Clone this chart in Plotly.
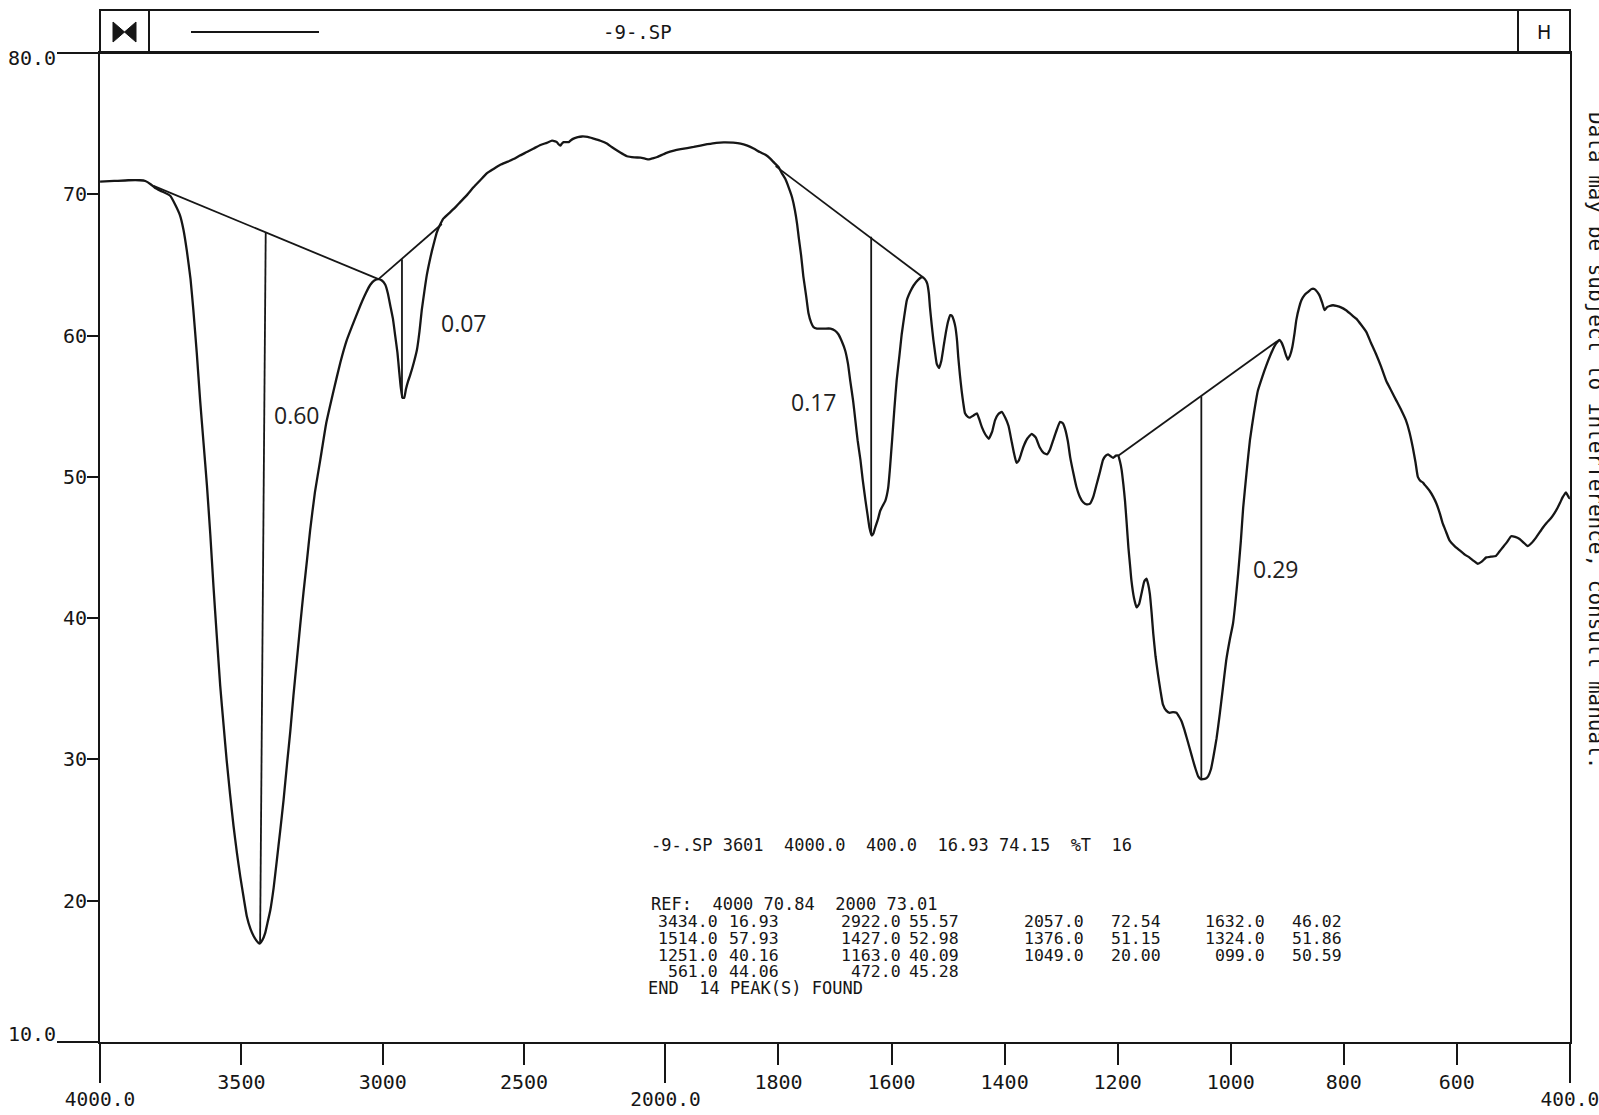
import numpy as np
import plotly.graph_objects as go

# ---------------- data ----------------
wavenumber = [4000, 3950, 3900, 3860, 3840, 3820, 3805, 3780, 3752, 3735, 3717, 3705, 3693, 3680, 3670,
              3658, 3646, 3634, 3622, 3610, 3599, 3587, 3575, 3563, 3552, 3540, 3528, 3516, 3504, 3492,
              3481, 3468, 3457, 3446, 3436, 3426, 3416, 3408, 3398, 3386, 3375, 3363, 3351, 3339, 3327,
              3316, 3304, 3292, 3280, 3268, 3257, 3240, 3221, 3200, 3174, 3150, 3127, 3100, 3080, 3060,
              3044, 3030, 3015, 3003, 2991, 2982, 2973, 2964, 2956, 2948, 2942, 2936, 2930, 2924, 2918,
              2910, 2903, 2890, 2879, 2870, 2862, 2853, 2844, 2835, 2826, 2817, 2809, 2796, 2785, 2761,
              2740, 2726, 2700, 2679, 2655, 2631, 2608, 2584, 2560, 2537, 2515, 2490, 2466, 2442, 2420,
              2401, 2390, 2384, 2378, 2372, 2366, 2360, 2350, 2342, 2333, 2325, 2310, 2295, 2275, 2254,
              2230, 2207, 2190, 2171, 2150, 2136, 2110, 2088, 2070, 2058, 2045, 2029, 2012, 1997, 1985,
              1973, 1950, 1926, 1910, 1897, 1880, 1867, 1855, 1844, 1833, 1823, 1815, 1809, 1800, 1794,
              1788, 1782, 1776, 1771, 1767, 1764, 1760, 1756, 1751, 1747, 1742, 1738, 1732, 1726, 1718,
              1708, 1700, 1694, 1688, 1682, 1677, 1673, 1668, 1664, 1660, 1655, 1651, 1646, 1642, 1639,
              1635, 1632, 1629, 1624, 1620, 1615, 1611, 1606, 1603, 1599, 1595, 1591, 1586, 1582, 1577,
              1573, 1567, 1561, 1553, 1546, 1541, 1537, 1534, 1532, 1529, 1526, 1523, 1520, 1516, 1512,
              1508, 1504, 1500, 1496, 1493, 1490, 1487, 1484, 1482, 1479, 1476, 1473, 1470, 1465, 1461,
              1455, 1449, 1445, 1440, 1434, 1428, 1422, 1417, 1411, 1405, 1399, 1393, 1388, 1384, 1379,
              1375, 1371, 1367, 1360, 1352, 1345, 1338, 1331, 1325, 1320, 1314, 1308, 1302, 1297, 1293,
              1288, 1284, 1278, 1273, 1267, 1261, 1255, 1249, 1243, 1237, 1231, 1226, 1221, 1217, 1212,
              1208, 1203, 1199, 1196, 1193, 1190, 1187, 1184, 1181, 1178, 1175.6, 1171, 1166.6, 1162, 1158,
              1153, 1149, 1146, 1143, 1140, 1137, 1133, 1128.6, 1124, 1120, 1114, 1108, 1102, 1096, 1091,
              1087, 1082, 1078, 1072, 1066.5, 1062, 1057.6, 1053, 1049, 1044, 1040, 1035, 1031, 1025, 1019.4,
              1014, 1008, 1002, 996, 992, 987, 982, 978, 972, 966, 959, 952, 944, 937, 929,
              922, 914, 910, 906, 903, 899, 895, 891, 887, 884, 879, 875, 869, 863, 857,
              852, 847, 843, 838, 834, 830, 825, 819, 813, 805, 796, 787, 778, 769, 760,
              752, 743, 734, 725, 716, 707, 698, 690, 684, 678, 673, 669, 664, 660, 654,
              648, 642, 636, 630, 625, 619, 613, 604, 595, 586, 578, 570, 563, 556, 548,
              540, 531, 525, 519, 511, 504, 497, 489, 482, 475, 467, 460, 454, 448, 441,
              433, 427, 422, 417, 413, 409, 407, 404, 401, 400]
transmittance = [70.9, 70.95, 71.0, 71.0, 70.95, 70.7, 70.45, 70.2, 69.9, 69.3, 68.5, 67.5, 66.0, 64.0, 61.8,
                 58.8, 55.4, 52.4, 49.4, 45.9, 42.3, 38.7, 35.2, 32.4, 29.9, 27.5, 25.3, 23.4, 21.7, 20.2,
                 18.9, 18.0, 17.5, 17.15, 16.95, 17.2, 17.7, 18.4, 19.3, 20.9, 22.8, 24.9, 27.1, 29.6, 32.0,
                 34.5, 37.0, 39.5, 41.9, 44.1, 46.2, 48.9, 51.2, 53.8, 56.1, 58.1, 59.7, 61.1, 62.1, 63.0,
                 63.6, 63.9, 64.0, 63.9, 63.6, 63.0, 62.1, 61.2, 60.0, 58.8, 57.5, 56.3, 55.6, 55.6, 56.2,
                 56.8, 57.2, 58.1, 59.0, 60.3, 61.8, 63.1, 64.3, 65.2, 66.0, 66.7, 67.3, 67.9, 68.3, 68.75,
                 69.15, 69.45, 70.0, 70.5, 71.0, 71.5, 71.8, 72.1, 72.3, 72.5, 72.75, 73.0, 73.25, 73.5, 73.65,
                 73.8, 73.75, 73.7, 73.55, 73.45, 73.6, 73.7, 73.7, 73.7, 73.85, 73.95, 74.05, 74.1, 74.07, 73.95,
                 73.8, 73.6, 73.35, 73.1, 72.85, 72.7, 72.62, 72.6, 72.52, 72.48, 72.55, 72.65, 72.8, 72.96, 73.1,
                 73.2, 73.36, 73.55, 73.65, 73.68, 73.66, 73.6, 73.45, 73.25, 73.0, 72.8, 72.55, 72.3, 71.95, 71.5,
                 71.1, 70.5, 69.8, 68.9, 67.9, 66.9, 65.7, 64.2, 62.8, 61.6, 60.9, 60.6, 60.5, 60.5, 60.5,
                 60.5, 60.35, 60.1, 59.6, 58.95, 58.0, 56.8, 55.4, 54.0, 52.6, 51.2, 49.8, 48.3, 47.2, 46.4,
                 45.85, 46.0, 46.4, 47.0, 47.6, 48.0, 48.3, 49.2, 50.5, 52.6, 54.8, 56.8, 58.6, 60.1, 61.5,
                 62.5, 63.1, 63.55, 63.95, 64.15, 64.0, 63.7, 63.0, 62.0, 60.8, 59.7, 58.8, 58.0, 57.7, 58.2,
                 59.2, 60.2, 61.0, 61.45, 61.4, 61.1, 60.6, 59.6, 58.5, 57.2, 56.1, 55.2, 54.5, 54.25, 54.2,
                 54.35, 54.5, 54.1, 53.5, 53.0, 52.7, 53.2, 54.0, 54.45, 54.6, 54.2, 53.6, 52.6, 51.8, 51.0,
                 51.15, 51.6, 52.1, 52.7, 53.05, 52.8, 52.1, 51.7, 51.6, 51.9, 52.6, 53.3, 53.9, 53.8, 53.4,
                 52.5, 51.4, 50.2, 49.3, 48.6, 48.2, 48.05, 48.1, 48.6, 49.5, 50.4, 51.2, 51.5, 51.6, 51.45,
                 51.35, 51.5, 51.5, 51.1, 50.5, 49.5, 48.3, 46.7, 45.0, 43.7, 42.65, 41.4, 40.76, 41.0, 41.7,
                 42.6, 42.8, 42.4, 41.7, 40.4, 38.9, 37.3, 36.0, 34.8, 33.9, 33.45, 33.3, 33.35, 33.3, 33.0,
                 32.7, 32.1, 31.55, 30.7, 29.9, 29.3, 28.8, 28.6, 28.6, 28.65, 28.8, 29.3, 30.1, 31.5, 33.2,
                 35.0, 37.0, 38.4, 39.6, 41.0, 43.1, 45.5, 47.8, 50.3, 52.6, 54.5, 56.1, 57.1, 57.9, 58.7,
                 59.3, 59.7, 59.5, 59.1, 58.7, 58.3, 58.6, 59.2, 60.2, 61.1, 62.0, 62.5, 62.9, 63.1, 63.3,
                 63.3, 63.1, 62.85, 62.3, 61.8, 62.0, 62.1, 62.15, 62.1, 62.0, 61.8, 61.5, 61.2, 60.75, 60.25,
                 59.5, 58.7, 57.8, 56.8, 56.1, 55.4, 54.7, 54.0, 53.2, 52.1, 51.0, 50.0, 49.7, 49.6, 49.3,
                 49.0, 48.6, 48.1, 47.4, 46.7, 46.1, 45.5, 45.1, 44.8, 44.5, 44.3, 44.05, 43.85, 44.0, 44.3,
                 44.35, 44.4, 44.7, 45.0, 45.4, 45.8, 45.75, 45.6, 45.35, 45.1, 45.35, 45.7, 46.05, 46.4, 46.75,
                 47.1, 47.45, 47.8, 48.2, 48.55, 48.8, 48.9, 48.7, 48.5, 48.5]

# peak-pick baselines (wavenumber pairs, %T pairs)
baseline_wn = [[3811, 3015], [3015, 2791], [1805, 1545], [1199, 918]]
baseline_t = [[70.6, 64.0], [64.0, 67.9], [72.0, 64.15], [51.5, 59.6]]
# vertical drop lines from peak minimum to baseline
drop_wn = [[3434, 3414], [2932, 2932], [1636, 1636], [1052, 1052]]
drop_t = [[16.93, 67.3], [55.6, 65.4], [45.9, 67.0], [28.6, 55.7]]
# hand-written absorbance labels
hand_labels = ["0.60", "0.07", "0.17", "0.29"]
hand_wn = [3303, 2712, 1737, 920]
hand_t = [54.4, 60.9, 55.3, 43.5]

x_minor_ticks = [3500, 3000, 2500, 1800, 1600, 1400, 1200, 1000, 800, 600]
x_minor_text = ["3500", "3000", "2500", "1800", "1600", "1400", "1200", "1000", "800", "600"]
x_major_ticks = [4000, 2000, 400]
x_major_text = ["4000.0", "2000.0", "400.0"]
y_ticks = [20, 30, 40, 50, 60, 70]
y_text = ["20", "30", "40", "50", "60", "70"]
y_end_ticks = [10, 80]
y_end_text = ["10.0", "80.0"]

title_text = "-9-.SP"
info_line = "-9-.SP 3601  4000.0  400.0  16.93 74.15  %T  16"
ref_line = "REF:  4000 70.84  2000 73.01"
peak_rows = [
    ["3434.0", "16.93", "2922.0", "55.57", "2057.0", "72.54", "1632.0", "46.02"],
    ["1514.0", "57.93", "1427.0", "52.98", "1376.0", "51.15", "1324.0", "51.86"],
    ["1251.0", "40.16", "1163.0", "40.09", "1049.0", "20.00", "099.0", "50.59"],
    ["561.0", "44.06", "472.0", "45.28"],
]
end_line = "END  14 PEAK(S) FOUND"
side_note = "Data may be subject to interference, consult manual."

# ---------------- layout helpers ----------------
W, H = 1599, 1115
L, R, T, B = 100, 1570, 53, 1042
INK = "#161616"
MONO = "DejaVu Sans Mono"


def to_u(wn):
    """IR chart x scale: 4000-2000 compressed, 2000-400 expanded x2."""
    wn = np.asarray(wn, dtype=float)
    return np.where(wn >= 2000, 4000 - wn, 2000 + 2 * (2000 - wn))


def pxx(x):
    return (x - L) / (R - L)


def pxy(y):
    return (B - y) / (B - T)


fig = go.Figure()

fig.add_trace(go.Scatter(x=to_u(wavenumber), y=transmittance, mode="lines",
                         line=dict(color=INK, width=2.3, shape="spline", smoothing=0.4),
                         hoverinfo="skip", showlegend=False))
for w, t in zip(baseline_wn, baseline_t):
    fig.add_trace(go.Scatter(x=to_u(w), y=t, mode="lines", line=dict(color=INK, width=1.8),
                             hoverinfo="skip", showlegend=False))
for w, t in zip(drop_wn, drop_t):
    fig.add_trace(go.Scatter(x=to_u(w), y=t, mode="lines", line=dict(color=INK, width=1.8),
                             hoverinfo="skip", showlegend=False))

# invisible helpers so the extra tick axes are drawn
fig.add_trace(go.Scatter(x=to_u(x_major_ticks), y=[50] * len(x_major_ticks), xaxis="x2", yaxis="y",
                         mode="markers", marker=dict(opacity=0), hoverinfo="skip", showlegend=False))
fig.add_trace(go.Scatter(x=to_u([3000, 3000]), y=y_end_ticks, xaxis="x", yaxis="y2",
                         mode="markers", marker=dict(opacity=0), hoverinfo="skip", showlegend=False))

urange = [-0.3, float(to_u(400)) + 0.3]
yrange = [9.99, 80.01]
tickfont = dict(family=MONO, size=20, color=INK)

fig.update_layout(
    width=W, height=H,
    margin=dict(l=L, r=W - R, t=T, b=H - B, pad=0),
    paper_bgcolor="white", plot_bgcolor="white",
    showlegend=False,
    xaxis=dict(range=urange, tickvals=to_u(x_minor_ticks), ticktext=x_minor_text,
               ticks="outside", ticklen=21, tickwidth=2, tickcolor=INK, ticklabeloverflow="allow",
               showline=True, mirror=True, linecolor=INK, linewidth=2, automargin=False,
               showgrid=False, zeroline=False, tickfont=tickfont, fixedrange=True),
    xaxis2=dict(range=urange, overlaying="x", anchor="y", side="bottom",
                tickvals=to_u(x_major_ticks), ticktext=x_major_text, automargin=False,
                ticks="outside", ticklen=40, tickwidth=2, tickcolor=INK, ticklabeloverflow="allow",
                showline=False, showgrid=False, zeroline=False,
                tickfont=dict(family=MONO, size=19.5, color=INK)),
    yaxis=dict(range=yrange, tickvals=y_ticks, ticktext=y_text, automargin=False,
               ticks="outside", ticklen=11, tickwidth=2, tickcolor=INK, ticklabeloverflow="allow",
               ticklabelstandoff=-4,
               showline=True, mirror=True, linecolor=INK, linewidth=2,
               showgrid=False, zeroline=False, tickfont=tickfont),
    yaxis2=dict(range=yrange, overlaying="y", anchor="x", side="left",
                tickvals=y_end_ticks, showticklabels=False, automargin=False,
                ticks="outside", ticklen=42, tickwidth=2, tickcolor=INK,
                showline=False, showgrid=False, zeroline=False),
)


def note(x, y, text, xanchor="center", yanchor="middle", **kw):
    fig.add_annotation(x=x, y=y, text=text, showarrow=False, xanchor=xanchor, yanchor=yanchor, **kw)


# y end labels (80.0 just below its tick, 10.0 just above its tick)
note(pxx(58), 80, y_end_text[1], xanchor="right", xref="paper", yref="y", yshift=-5, font=tickfont)
note(pxx(58), 10, y_end_text[0], xanchor="right", xref="paper", yref="y", yshift=8, font=tickfont)

# header box
shapes = [
    dict(type="rect", xref="paper", yref="paper", x0=pxx(L), x1=pxx(R), y0=pxy(T), y1=pxy(10),
         line=dict(color=INK, width=2)),
    dict(type="line", xref="paper", yref="paper", x0=pxx(149), x1=pxx(149), y0=pxy(T), y1=pxy(10),
         line=dict(color=INK, width=2)),
    dict(type="line", xref="paper", yref="paper", x0=pxx(1518), x1=pxx(1518), y0=pxy(T), y1=pxy(10),
         line=dict(color=INK, width=2)),
    dict(type="line", xref="paper", yref="paper", x0=pxx(191), x1=pxx(319), y0=pxy(32), y1=pxy(32),
         line=dict(color=INK, width=2)),
]
bow = "M {a},{b} L {a},{c} L {m},{d} Z M {e},{b} L {e},{c} L {m},{d} Z".format(
    a=pxx(113), e=pxx(136), m=pxx(124.5), b=pxy(22), c=pxy(42), d=pxy(32))
shapes.append(dict(type="path", xref="paper", yref="paper", path=bow,
                   fillcolor=INK, line=dict(color=INK, width=1)))
fig.update_layout(shapes=shapes)

note(pxx(637), pxy(32), title_text, xref="paper", yref="paper", font=dict(family=MONO, size=19, color=INK))
note(pxx(1544), pxy(32), "H", xref="paper", yref="paper",
     font=dict(family="DejaVu Sans", size=19, color=INK))

# hand-written labels
for lab, w, t in zip(hand_labels, hand_wn, hand_t):
    note(float(to_u(w)), t, lab, xref="x", yref="y", font=dict(family="Open Sans", size=23, color="#222222"))

# printed peak table
nb = lambda s: s.replace(" ", "\u00a0")
tfont = dict(family=MONO, size=17, color=INK)
note(pxx(649), pxy(845), nb(info_line), xanchor="left", xref="paper", yref="paper", font=tfont)
note(pxx(649), pxy(904), nb(ref_line), xanchor="left", xref="paper", yref="paper", font=tfont)
col_right = [720, 781, 903, 961, 1086, 1163, 1267, 1344]
row_y = [921, 938, 955, 971]
for ry, row in zip(row_y, peak_rows):
    for cx, cell in zip(col_right, row):
        note(pxx(cx), pxy(ry), cell, xanchor="right", xref="paper", yref="paper",
             font=dict(family=MONO, size=16.5, color=INK))
note(pxx(646), pxy(988), nb(end_line), xanchor="left", xref="paper", yref="paper", font=tfont)

# side note printed along the right edge (partly cut off by the page edge, as in the scan)
note(pxx(1596), pxy(440), side_note, xref="paper", yref="paper", textangle=90,
     font=dict(family=MONO, size=21, color=INK))

fig.write_html("out.html", config={"displayModeBar": False, "staticPlot": True})
with open("out.html", "r", encoding="utf-8") as fh:
    html = fh.read()
html = html.replace("<head>", "<head><style>html,body{margin:0;padding:0;overflow:hidden;}</style>", 1)
with open("out.html", "w", encoding="utf-8") as fh:
    fh.write(html)
